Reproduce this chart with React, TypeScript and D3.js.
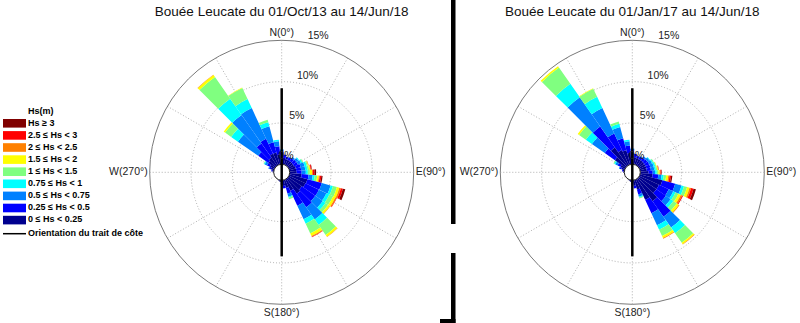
import React from 'react';
import * as d3 from 'd3';

// Hs classes, innermost first
const hsClasses = [
  '0 ≤ Hs < 0.25',
  '0.25 ≤ Hs < 0.5',
  '0.5 ≤ Hs < 0.75',
  '0.75 ≤ Hs < 1',
  '1 ≤ Hs < 1.5',
  '1.5 ≤ Hs < 2',
  '2 ≤ Hs < 2.5',
  '2.5 ≤ Hs < 3',
  'Hs ≥ 3',
];
const hsColors = ['#00008f', '#0000ff', '#0080ff', '#00ffff', '#80ff80', '#ffff00', '#ff8000', '#ff0000', '#800000'];

const directions = d3.range(0, 360, 10);
const ringTicks = [0, 5, 10, 15];
const spokeAngles = d3.range(0, 360, 30);
const coastOrientation = 0; // degrees
const coastHalfLength = 9.2; // in % units

// frequency (%) per direction, one value per Hs class
const freqOct13: number[][] = [
  [1.0, 0.6, 0.2], // 0
  [0.8, 0.4], // 10
  [0.7, 0.3], // 20
  [0.7, 0.35, 0.05], // 30
  [0.7, 0.4, 0.2], // 40
  [0.7, 0.5, 0.3, 0.1], // 50
  [0.7, 0.5, 0.4, 0.2, 0.1], // 60
  [0.8, 0.6, 0.5, 0.25, 0.15, 0.05, 0.03, 0.02], // 70
  [0.8, 0.6, 0.5, 0.25, 0.2, 0.15, 0.05, 0.1, 0.05], // 80
  [0.85, 0.6, 0.5, 0.25, 0.25, 0.25, 0.1, 0.2, 0.2], // 90
  [1.45, 0.85, 0.5, 0.25, 0.3, 0.2, 0.1, 0.2, 0.15], // 100
  [2.25, 1.8, 1.1, 0.3, 0.5, 0.3, 0.2, 0.25, 0.3], // 110
  [2.2, 1.8, 1.0, 0.4, 0.5, 0.3, 0.15, 0.05], // 120
  [2.0, 2.0, 1.1, 0.4, 0.4, 0.25, 0.05], // 130
  [2.2, 2.0, 1.8, 0.8, 1.5, 0.25, 0.05], // 140
  [1.5, 2.0, 1.8, 0.6, 1.3, 0.35, 0.1, 0.05], // 150
  [1.0, 0.7, 0.4, 0.1, 0.2], // 160
  [0.7, 0.3], // 170
  [0.4, 0.1], // 180
  [0.2], // 190
  [0.1], // 200
  [], [], [], [], [], [], // 210-260
  [0.1], // 270
  [0.2, 0.1], // 280
  [0.4, 0.2, 0.1], // 290
  [0.6, 0.4, 0.3, 0.1, 0.05], // 300
  [1.0, 1.5, 3.0, 1.0, 0.9, 0.2], // 310
  [1.2, 2.1, 4.2, 2.4, 3.2, 0.3, 0.05], // 320
  [1.5, 2.0, 4.1, 1.2, 1.5, 0.05], // 330
  [1.5, 1.3, 2.0, 0.5, 0.3], // 340
  [1.2, 1.0, 0.6, 0.2], // 350
];

const freqJan17: number[][] = [
  [1.1, 0.6, 0.2], // 0
  [0.9, 0.4], // 10
  [0.8, 0.3], // 20
  [0.8, 0.35, 0.05], // 30
  [0.8, 0.4, 0.2], // 40
  [0.8, 0.45, 0.3, 0.1], // 50
  [0.8, 0.5, 0.35, 0.15, 0.1], // 60
  [0.8, 0.5, 0.4, 0.2, 0.1, 0.05], // 70
  [0.8, 0.5, 0.4, 0.2, 0.15, 0.1, 0.05, 0.05], // 80
  [1.0, 0.5, 0.3, 0.2, 0.2, 0.15, 0.1, 0.1, 0.05], // 90
  [1.5, 0.7, 0.4, 0.25, 0.3, 0.25, 0.15, 0.2, 0.15], // 100
  [2.8, 1.6, 0.8, 0.3, 0.4, 0.3, 0.2, 0.3, 0.3], // 110
  [2.6, 1.3, 0.6, 0.3, 0.4, 0.3, 0.2, 0.1], // 120
  [2.6, 1.4, 0.7, 0.4, 0.5, 0.3, 0.1], // 130
  [3.3, 2.3, 1.6, 0.85, 1.4, 0.2, 0.05], // 140
  [2.7, 1.8, 1.6, 0.6, 0.85, 0.25, 0.1], // 150
  [1.2, 0.6, 0.3, 0.1, 0.1], // 160
  [0.7, 0.3], // 170
  [0.4, 0.1], // 180
  [0.2], // 190
  [0.1], // 200
  [], [], [], [], [], [], // 210-260
  [0.1], // 270
  [0.2, 0.1], // 280
  [0.4, 0.2, 0.1], // 290
  [0.6, 0.4, 0.3, 0.15, 0.1], // 300
  [1.6, 1.5, 1.9, 0.9, 1.0, 0.2], // 310
  [2.7, 3.1, 4.3, 2.0, 2.4, 0.2], // 320
  [2.0, 2.2, 3.4, 1.5, 1.1, 0.05], // 330
  [1.8, 1.5, 1.4, 0.4, 0.3], // 340
  [1.4, 0.9, 0.5, 0.2], // 350
];

const titles = ['Bouée Leucate du 01/Oct/13 au 14/Jun/18', 'Bouée Leucate du 01/Jan/17 au 14/Jun/18'];

const W = 800;
const H = 323;
const font = 'Arial, "Liberation Sans", sans-serif';

const rad = (deg: number) => (deg * Math.PI) / 180;

const Rose = ({ cx, cy, freq, title }: { cx: number; cy: number; freq: number[][]; title: string }) => {
  const r = d3.scaleLinear().domain([0, 15]).range([8, 132]);
  const arc = d3.arc<any>();
  const half = 5;

  const segments: { d: string; color: string }[] = [];
  directions.forEach((dir, i) => {
    let cum = 0;
    (freq[i] || []).forEach((v, k) => {
      if (!v) return;
      const d = arc({
        innerRadius: r(cum),
        outerRadius: r(cum + v),
        startAngle: rad(dir - half),
        endAngle: rad(dir + half),
      }) as string;
      segments.push({ d, color: hsColors[k] });
      cum += v;
    });
  });

  const rMax = r(15);
  const pt = (deg: number, rr: number) => [cx + rr * Math.sin(rad(deg)), cy - rr * Math.cos(rad(deg))];

  return (
    <g>
      <text x={cx} y={16} textAnchor="middle" fontSize={13.5} fontFamily={font} fill="#111">
        {title}
      </text>
      {/* grid */}
      {ringTicks.slice(1, -1).map(t => (
        <circle key={t} cx={cx} cy={cy} r={r(t)} fill="none" stroke="#9a9a9a" strokeWidth={0.8} strokeDasharray="1,2" />
      ))}
      {spokeAngles.map(a => {
        const [x1, y1] = pt(a, r(0));
        const [x2, y2] = pt(a, rMax);
        return <line key={a} x1={x1} y1={y1} x2={x2} y2={y2} stroke="#9a9a9a" strokeWidth={0.8} strokeDasharray="1,2" />;
      })}
      <circle cx={cx} cy={cy} r={rMax} fill="none" stroke="#7a7a7a" strokeWidth={1} />
      {/* bars */}
      <g transform={`translate(${cx},${cy})`}>
        {segments.map((s, i) => (
          <path key={i} d={s.d} fill={s.color} />
        ))}
      </g>
      <circle cx={cx} cy={cy} r={r(0)} fill="#fff" stroke="#222" strokeWidth={1} />
      {/* coast orientation */}
      {(() => {
        const [x1, y1] = pt(coastOrientation, r(coastHalfLength));
        const [x2, y2] = pt(coastOrientation + 180, r(coastHalfLength));
        return <line x1={x1} y1={y1} x2={x2} y2={y2} stroke="#000" strokeWidth={2.5} />;
      })()}
      {/* ring labels */}
      {ringTicks.map(t => {
        const [x, y] = pt(15, r(t) + 9);
        return (
          <text key={t} x={x} y={y} textAnchor="middle" dominantBaseline="middle" fontSize={10.5} fontFamily={font} fill="#222">
            {t}%
          </text>
        );
      })}
      {/* cardinal labels */}
      <text x={cx} y={cy - rMax - 4} textAnchor="middle" fontSize={10.5} fontFamily={font} fill="#222">N(0°)</text>
      <text x={cx} y={cy + rMax + 12} textAnchor="middle" fontSize={10.5} fontFamily={font} fill="#222">S(180°)</text>
      <text x={cx + rMax + 2} y={cy} dominantBaseline="middle" fontSize={10.5} fontFamily={font} fill="#222">E(90°)</text>
      <text x={cx - rMax - 2} y={cy} textAnchor="end" dominantBaseline="middle" fontSize={10.5} fontFamily={font} fill="#222">W(270°)</text>
    </g>
  );
};

const Legend = () => {
  const rows = [...hsClasses].reverse();
  const cols = [...hsColors].reverse();
  const y = d3.scaleLinear().domain([0, 1]).range([123.3, 135.4]);
  return (
    <g fontFamily={font} fontWeight="bold" fontSize={9} fill="#000">
      <text x={28} y={111.7} dominantBaseline="middle">Hs(m)</text>
      {rows.map((lab, i) => (
        <g key={lab}>
          <rect x={3} y={y(i) - 4.3} width={23} height={8.6} fill={cols[i]} />
          <text x={28} y={y(i)} dominantBaseline="middle">{lab}</text>
        </g>
      ))}
      <line x1={3} x2={26} y1={y(rows.length) + 1.5} y2={y(rows.length) + 1.5} stroke="#000" strokeWidth={1.5} />
      <text x={28} y={y(rows.length) + 1.5} dominantBaseline="middle">Orientation du trait de côte</text>
    </g>
  );
};

export default function App() {
  return (
    <svg width={W} height={H} style={{ position: 'absolute', left: 0, top: 0, background: '#fff' }}>
      <rect width={W} height={H} fill="#fff" />
      <Rose cx={281.7} cy={172.3} freq={freqOct13} title={titles[0]} />
      <Rose cx={632.3} cy={172.3} freq={freqJan17} title={titles[1]} />
      <Legend />
      {/* panel divider */}
      <rect x={451} y={0} width={4.5} height={224} fill="#000" />
      <rect x={451} y={253} width={4.5} height={70} fill="#000" />
      <rect x={440} y={319} width={15.5} height={4} fill="#000" />
    </svg>
  );
}
